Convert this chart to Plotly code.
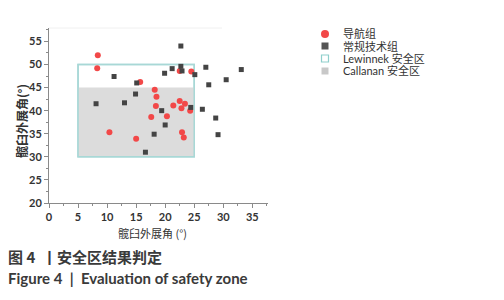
import plotly.graph_objects as go

# Data
nav_x = [8.4, 8.3, 15.7, 10.4, 15.0, 18.2, 18.5, 18.4, 17.6, 20.3, 21.4, 22.5, 22.8, 23.4, 24.3, 22.9, 23.2, 22.5, 24.5]
nav_y = [52.0, 49.2, 46.2, 35.3, 33.9, 44.5, 43.0, 41.0, 38.6, 38.8, 41.1, 42.1, 40.5, 41.5, 40.0, 35.3, 34.2, 48.6, 48.5]
conv_x = [8.1, 11.2, 13.0, 14.9, 15.1, 18.1, 16.6, 19.4, 20.0, 19.9, 21.2, 22.7, 22.7, 22.9, 25.1, 24.4, 26.4, 27.0, 27.5, 28.7, 29.1, 30.5, 33.1]
conv_y = [41.5, 47.4, 41.7, 43.6, 46.0, 34.9, 31.0, 40.0, 36.9, 48.1, 49.1, 54.0, 49.6, 48.6, 47.8, 40.7, 40.3, 49.4, 45.6, 38.4, 34.8, 46.7, 48.9]
lewinnek_x = [5, 25]
lewinnek_y = [30, 50]
callanan_x = [5, 25]
callanan_y = [30, 45]
x_ticks = [0, 5, 10, 15, 20, 25, 30, 35]
y_ticks = [20, 25, 30, 35, 40, 45, 50, 55]
legend_names = ["导航组", "常规技术组", "Lewinnek 安全区", "Callanan 安全区"]

RED = "#f24848"
DARK = "#444444"
TEAL = "#a8d8d6"
GRAY = "#dcdcdc"
TXT = "#333333"
CJK = "Noto Sans CJK SC"
LAT = "Lato, Noto Sans CJK SC"

W, H = 504, 300
OFF = 8  # page body margin
# plot area in page pixels (reference)
L, R, T, B = 49, 268, 28, 203
Ld, Rd, Td, Bd = L - OFF, R - OFF, T - OFF, B - OFF


def px(x):
    return (x - L) / (R - L)


def py(y):
    return (B - y) / (B - T)


fig = go.Figure()
fig.add_trace(go.Scatter(x=nav_x, y=nav_y, mode="markers", name=legend_names[0],
                         marker=dict(symbol="circle", size=6, color=RED), showlegend=False))
fig.add_trace(go.Scatter(x=conv_x, y=conv_y, mode="markers", name=legend_names[1],
                         marker=dict(symbol="square", size=5, color=DARK), showlegend=False))

# safety zones
fig.add_shape(type="rect", x0=lewinnek_x[0], x1=lewinnek_x[1], y0=lewinnek_y[0], y1=lewinnek_y[1],
              line=dict(color=TEAL, width=1.5), fillcolor="white", layer="below")
fig.add_shape(type="rect", x0=callanan_x[0], x1=callanan_x[1], y0=callanan_y[0], y1=callanan_y[1],
              line=dict(width=0), fillcolor=GRAY, layer="below")
fig.add_shape(type="rect", x0=lewinnek_x[0], x1=lewinnek_x[1], y0=lewinnek_y[0], y1=lewinnek_y[1],
              line=dict(color=TEAL, width=1.5), fillcolor="rgba(0,0,0,0)", layer="below")

# faint top frame line
fig.add_shape(type="line", xref="paper", yref="paper", x0=0, x1=px(222), y0=1, y1=1,
              line=dict(color="#f0f0f0", width=1))

# manual legend
rows = [34, 46, 58.5, 71]
mx = 325
fig.add_shape(type="circle", xref="paper", yref="paper", x0=px(mx - 4), x1=px(mx + 4),
              y0=py(rows[0] + 4), y1=py(rows[0] - 4), line=dict(width=0), fillcolor=RED)
fig.add_shape(type="rect", xref="paper", yref="paper", x0=px(mx - 3.5), x1=px(mx + 3.5),
              y0=py(rows[1] + 3.5), y1=py(rows[1] - 3.5), line=dict(width=0), fillcolor="#555555")
fig.add_shape(type="rect", xref="paper", yref="paper", x0=px(mx - 3.5), x1=px(mx + 3.5),
              y0=py(rows[2] + 3.5), y1=py(rows[2] - 3.5), line=dict(width=1.2, color="#8fcfcc"),
              fillcolor="white")
fig.add_shape(type="rect", xref="paper", yref="paper", x0=px(mx - 3.5), x1=px(mx + 3.5),
              y0=py(rows[3] + 3.5), y1=py(rows[3] - 3.5), line=dict(width=0), fillcolor="#c8c8c8")
for r, name in zip(rows, legend_names):
    fig.add_annotation(xref="paper", yref="paper", x=px(341), y=py(r), text=name,
                       showarrow=False, xanchor="left", yanchor="middle", xshift=0,
                       font=dict(family=LAT, size=11, color=TXT))

# captions
fig.add_annotation(xref="paper", yref="paper", x=px(6), y=py(256),
                   text="<b>图 4  丨安全区结果判定</b>",
                   showarrow=False, xanchor="left", yanchor="middle",
                   font=dict(family=CJK, size=15, color="#3a3a3a"))
fig.add_annotation(xref="paper", yref="paper", x=px(6), y=py(278),
                   text="<b>Figure 4  |  Evaluation of safety zone</b>",
                   showarrow=False, xanchor="left", yanchor="middle",
                   font=dict(family=LAT, size=15, color="#3a3a3a"))
# axis titles
fig.add_annotation(xref="paper", yref="paper", x=px(152), y=py(233), text="髋臼外展角 (°)",
                   showarrow=False, xanchor="center", yanchor="middle",
                   font=dict(family=CJK, size=11, color=TXT))
fig.add_annotation(xref="paper", yref="paper", x=px(22), y=py(121), text="<b>髋臼外展角(°)</b>",
                   showarrow=False, xanchor="center", yanchor="middle", textangle=-90,
                   font=dict(family=CJK, size=12, color=TXT))

axis_common = dict(
    showline=True, linecolor="#8a8a8a", linewidth=1,
    ticks="outside", ticklen=4, tickcolor="#8a8a8a", tickwidth=1,
    tickfont=dict(family=LAT, size=11, color=TXT, weight="bold"),
    zeroline=False, automargin=False,
)
fig.update_xaxes(range=[0, 37.7], tickvals=x_ticks, ticktext=[str(v) for v in x_ticks],
                 showgrid=False,
                 minor=dict(dtick=2.5, ticks="outside", ticklen=2, tickcolor="#8a8a8a", showgrid=False),
                 **axis_common)
fig.update_yaxes(range=[20, 57.9], tickvals=y_ticks, ticktext=[str(v) for v in y_ticks],
                 showgrid=False,
                 minor=dict(dtick=2.5, ticks="outside", ticklen=2, tickcolor="#8a8a8a", showgrid=False),
                 **axis_common)

fig.update_layout(width=W, height=H,
                  margin=dict(l=Ld, r=W - Rd, t=Td, b=H - Bd, autoexpand=False),
                  plot_bgcolor="white", paper_bgcolor="white", showlegend=False)

fig.write_html("out.html")
